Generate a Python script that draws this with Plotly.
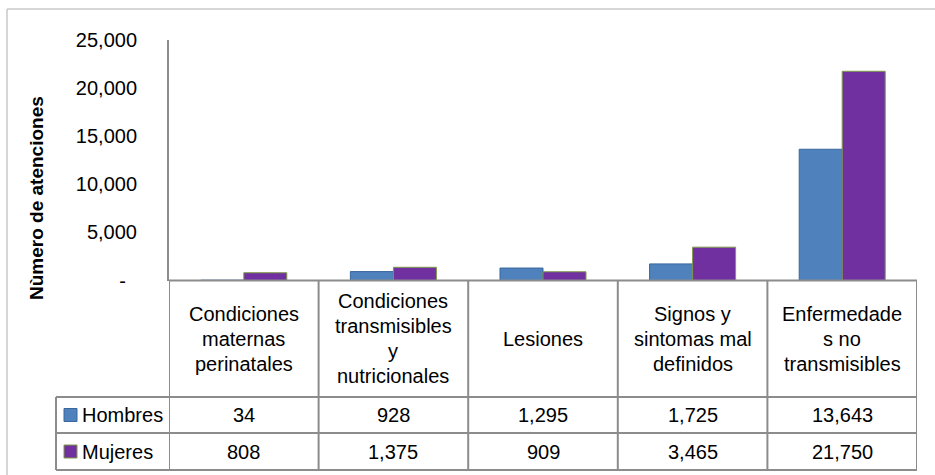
import plotly.graph_objects as go

# Atenciones por gran causa y sexo
categorias = [
    "Condiciones<br>maternas<br>perinatales",
    "Condiciones<br>transmisibles<br>y<br>nutricionales",
    "Lesiones",
    "Signos y<br>sintomas mal<br>definidos",
    "Enfermedade<br>s no<br>transmisibles",
]
hombres = [34, 928, 1295, 1725, 13643]
mujeres = [808, 1375, 909, 3465, 21750]
series = ["Hombres", "Mujeres"]
y_ticks = [0, 5000, 10000, 15000, 20000, 25000]
y_labels = ["-\u00a0\u00a0", "5,000", "10,000", "15,000", "20,000", "25,000"]

W, H = 935, 475
FONT = "Liberation Sans, Arial, sans-serif"
FS = 20
AZUL, AZUL_BORDE = "#4F81BD", "#3A679C"
MORADO, MORADO_BORDE = "#7030A0", "#7F9A48"
LINEA = "#8C8C8C"


def px(x):
    return x / W


def py(y):
    return 1 - y / H


# pixel geometry of the plot area and the data table
x_left, x_right = 169, 917
y_top, y_zero = 40, 280.5
leg_left = 56
row_lines = [397, 433, 470]
line_pitch = 25

idx = list(range(len(categorias)))

fig = go.Figure()
fig.add_trace(go.Bar(x=idx, y=hombres, name=series[0],
                     marker=dict(color=AZUL, line=dict(color=AZUL_BORDE, width=1))))
fig.add_trace(go.Bar(x=idx, y=mujeres, name=series[1],
                     marker=dict(color=MORADO, line=dict(color=MORADO_BORDE, width=1))))

shapes = []
# outer chart frame (top and left edges fall inside the page)
shapes.append(dict(type="line", xref="paper", yref="paper",
                   x0=px(7), x1=1, y0=py(9), y1=py(9),
                   line=dict(color="#C8C8C8", width=1.5), layer="below"))
shapes.append(dict(type="line", xref="paper", yref="paper",
                   x0=px(7), x1=px(7), y0=0, y1=py(9),
                   line=dict(color="#C8C8C8", width=1.5), layer="below"))
# table: top border (category axis line)
shapes.append(dict(type="line", xref="paper", yref="paper",
                   x0=px(x_left), x1=px(x_right), y0=py(y_zero), y1=py(y_zero),
                   line=dict(color=LINEA, width=2)))
# table: row borders including the legend column
for ry in row_lines:
    shapes.append(dict(type="line", xref="paper", yref="paper",
                       x0=px(leg_left), x1=px(x_right), y0=py(ry), y1=py(ry),
                       line=dict(color=LINEA, width=2)))
# table: column borders on category boundaries
for i in range(len(categorias) + 1):
    shapes.append(dict(type="line", xref="x", yref="paper",
                       x0=i - 0.5, x1=i - 0.5, y0=py(row_lines[-1]), y1=py(y_zero),
                       line=dict(color=LINEA, width=2)))
shapes.append(dict(type="line", xref="paper", yref="paper",
                   x0=px(leg_left), x1=px(leg_left), y0=py(row_lines[-1]), y1=py(row_lines[0]),
                   line=dict(color=LINEA, width=2)))

annotations = []
hdr_mid = (y_zero + row_lines[0]) / 2
for i, cat in enumerate(categorias):
    lineas = cat.split("<br>")
    n = len(lineas)
    for k, texto in enumerate(lineas):
        yk = hdr_mid + (k - (n - 1) / 2) * line_pitch
        annotations.append(dict(x=i, y=py(yk), xref="x", yref="paper", text=texto,
                                showarrow=False, xanchor="center", yanchor="middle",
                                font=dict(family=FONT, size=FS, color="#000")))

row_mids = [(row_lines[0] + row_lines[1]) / 2, (row_lines[1] + row_lines[2]) / 2]
for valores, nombre, color, borde, ym in [
    (hombres, series[0], AZUL, AZUL_BORDE, row_mids[0]),
    (mujeres, series[1], MORADO, MORADO_BORDE, row_mids[1]),
]:
    for i, v in enumerate(valores):
        annotations.append(dict(x=i, y=py(ym), xref="x", yref="paper", text=f"{v:,}",
                                showarrow=False, xanchor="center", yanchor="middle",
                                font=dict(family=FONT, size=FS, color="#000")))
    # legend key inside the table
    shapes.append(dict(type="rect", xref="paper", yref="paper",
                       x0=px(64), x1=px(77), y0=py(ym + 6.5), y1=py(ym - 6.5),
                       fillcolor=color, line=dict(color=borde, width=1)))
    annotations.append(dict(x=px(80), y=py(ym), xref="paper", yref="paper", text=nombre,
                            showarrow=False, xanchor="left", yanchor="middle",
                            font=dict(family=FONT, size=FS, color="#000")))

# y-axis title
annotations.append(dict(x=px(36), y=py(198), xref="paper", yref="paper",
                        text="<b>Nùmero de atenciones</b>", textangle=-90,
                        showarrow=False, xanchor="center", yanchor="middle",
                        font=dict(family=FONT, size=19, color="#000")))

fig.update_layout(
    width=W, height=H,
    margin=dict(l=0, r=0, t=0, b=0, autoexpand=False),
    paper_bgcolor="white", plot_bgcolor="white",
    barmode="group", bargap=0.425, bargroupgap=0,
    showlegend=False,
    hovermode=False,
    shapes=shapes,
    annotations=annotations,
    xaxis=dict(domain=[px(x_left), px(x_right)], range=[-0.5, len(categorias) - 0.5],
               showticklabels=False, showgrid=False, zeroline=False, showline=False,
               fixedrange=True, automargin=False),
    yaxis=dict(domain=[py(y_zero), py(y_top)], range=[0, 25000],
               tickvals=y_ticks, ticktext=y_labels, ticks="", ticklabelstandoff=26,
               showgrid=False, zeroline=False, showline=True, linecolor=LINEA, linewidth=2,
               tickfont=dict(family=FONT, size=FS, color="#000"), fixedrange=True,
               automargin=False),
)

fig.write_html("out.html", config={"displayModeBar": False},
               post_script="document.body.style.margin='0';document.body.style.overflow='hidden';")
